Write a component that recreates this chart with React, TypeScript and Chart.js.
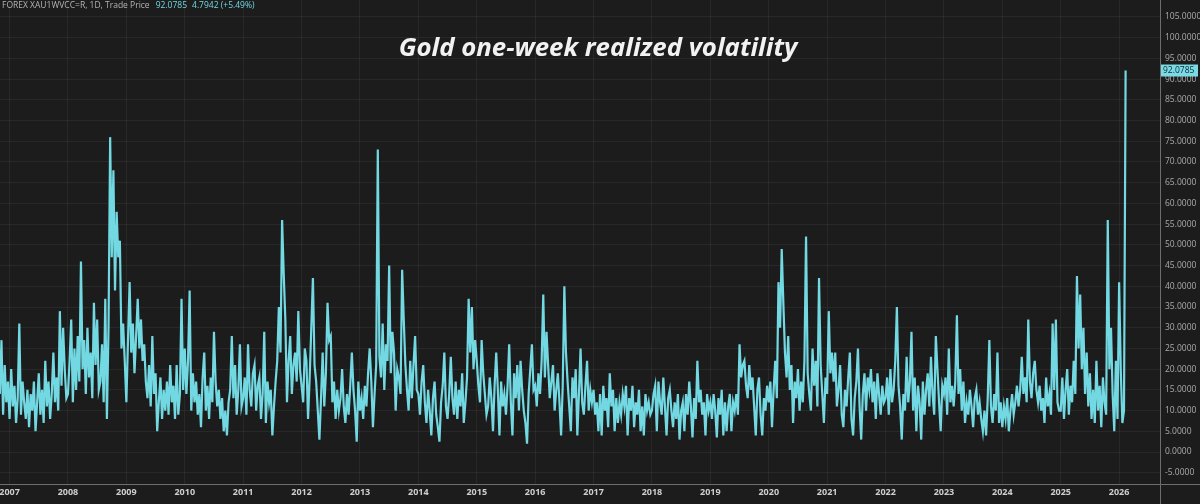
import React, { useEffect, useRef } from 'react';
import { Chart, registerables } from 'chart.js';

Chart.register(...registerables);

// ---- labels / texts ----
const headerText = 'FOREX XAU1WVCC=R, 1D, Trade Price';
const headerLast = '92.0785';
const headerChange = '4.7942 (+5.49%)';
const titleText = 'Gold one-week realized volatility';
const yearLabels = ['2007', '2008', '2009', '2010', '2011', '2012', '2013', '2014', '2015', '2016', '2017', '2018', '2019', '2020', '2021', '2022', '2023', '2024', '2025', '2026'];
const yTickValues = [-5, 0, 5, 10, 15, 20, 25, 30, 35, 40, 45, 50, 55, 60, 65, 70, 75, 80, 85, 90, 95, 100, 105];
const lastValue = 92.0785;

// ---- series values (one-week realized volatility, read per year) ----
const vol2006tail = [14, 27, 9, 21, 12, 17];
const vol2007 = [8, 20, 11, 16, 7, 13, 31, 9, 17, 12, 8, 15, 6, 14, 10, 17, 5, 12, 19, 9, 15, 7, 22, 11, 17, 8, 14, 24, 12, 18, 10, 34, 16, 30, 20, 13];
const vol2008 = [14, 22, 32, 12, 25, 15, 28, 17, 46, 20, 27, 14, 30, 18, 24, 13, 36, 21, 32, 15, 17, 26, 12, 37, 8, 30, 76, 47, 68, 39, 58, 47, 51, 25, 31, 22];
const vol2009 = [12, 27, 41, 24, 31, 19, 28, 37, 25, 32, 22, 26, 17, 13, 21, 11, 28, 14, 19, 5, 12, 18, 8, 15, 10, 17, 9, 21, 12, 16, 8, 21, 9, 14, 37, 15];
const vol2010 = [25, 14, 22, 39, 10, 19, 12, 17, 9, 14, 6, 18, 24, 10, 16, 8, 18, 12, 29, 17, 11, 15, 8, 13, 5, 10, 4, 12, 15, 28, 13, 21, 9, 15, 26, 11];
const vol2011 = [13, 18, 9, 26, 15, 11, 19, 21, 10, 16, 18, 8, 14, 29, 7, 17, 12, 15, 4, 11, 17, 22, 35, 24, 56, 43, 32, 12, 22, 28, 14, 21, 24, 17, 34, 20];
const vol2012 = [16, 12, 25, 22, 8, 18, 30, 42, 21, 17, 10, 3, 13, 24, 11, 19, 36, 27, 28, 12, 17, 8, 15, 10, 13, 20, 11, 7, 14, 9, 16, 24, 15, 10, 2.5, 17];
const vol2013 = [10, 13, 8, 16, 11, 19, 25, 17, 6, 14, 21, 73, 23, 18, 31, 15, 26, 22, 45, 19, 29, 24, 10, 20, 18, 14, 44, 32, 21, 15, 10, 22, 13, 21, 28, 15];
const vol2014 = [14, 9, 17, 21, 12, 7, 15, 10, 4, 13, 17, 9, 6, 2.5, 12, 16, 24, 11, 8, 14, 23, 13, 9, 17, 8, 15, 11, 19, 7, 12, 18, 37, 24, 35, 20, 27];
const vol2015 = [22, 16, 12, 27, 19, 14, 9, 11, 18, 13, 5, 16, 24, 15, 4, 17, 11, 14, 9, 16, 26, 12, 4, 19, 13, 21, 10, 22, 15, 10, 7, 2, 14, 20, 26, 15];
const vol2016 = [16, 11, 19, 14, 22, 38, 18, 29, 21, 13, 17, 21, 10, 15, 19, 12, 4, 16, 40, 24, 17, 11, 5, 18, 13, 20, 4, 14, 25, 12, 9, 16, 22, 10, 15, 12];
const vol2017 = [15, 9, 12, 5, 14, 4, 16, 10, 13, 6, 19, 11, 15, 5, 13, 7, 12, 9, 14, 11, 16, 4, 13, 10, 16, 6, 12, 9, 15, 5, 11, 4, 14, 10, 12, 9];
const vol2018 = [10, 14, 16, 5, 17, 12, 9, 18, 11, 4, 13, 15, 10, 6, 12, 8, 14, 3, 10, 12, 5, 14, 9, 17, 11, 3.5, 13, 8, 22, 12, 15, 9, 12, 4, 14, 10];
const vol2019 = [12, 8, 14, 10, 3.5, 13, 9, 15, 4, 12, 5, 11, 14, 5, 12, 10, 14, 9, 26, 18, 21, 22, 16, 13, 21, 15, 18, 11, 4, 15, 18, 9, 4, 13, 10, 16];
const vol2020 = [12, 17, 6, 15, 22, 13, 41, 30, 49, 36, 24, 18, 28, 15, 21, 7, 17, 13, 20, 10, 17, 12, 22, 52, 19, 14, 10, 25, 16, 22, 11, 42, 21, 14, 7, 18];
const vol2021 = [14, 34, 19, 24, 17, 24, 11, 15, 21, 9, 6, 15, 11, 18, 24, 8, 4, 13, 17, 25, 11, 3, 14, 19, 10, 18, 15, 20, 12, 17, 8, 19, 14, 9, 16, 12];
const vol2022 = [13, 18, 9, 20, 12, 15, 22, 35, 16, 11, 3, 14, 10, 23, 12, 17, 29, 10, 18, 5, 16, 12, 3, 17, 9, 15, 19, 11, 23, 14, 9, 28, 20, 12, 5, 16];
const vol2023 = [14, 18, 9, 25, 12, 16, 11, 17, 33, 14, 20, 10, 17, 7, 12, 9, 15, 11, 6, 13, 15, 9, 12, 8, 5, 10, 4, 13, 27, 11, 7, 14, 10, 24, 7, 12];
const vol2024 = [6, 11, 8, 13, 5, 10, 14, 9, 12, 16, 11, 15, 23, 14, 18, 12, 32, 17, 13, 19, 22, 15, 12, 16, 10, 13, 7, 18, 11, 14, 9, 31, 15, 32, 12, 10];
const vol2025 = [10, 18, 8, 15, 20, 9, 16, 12, 22, 14, 42.5, 25, 38, 20, 30, 14, 24, 11, 19, 8, 15, 7, 22, 10, 16, 6, 18, 12, 9, 56, 20, 30, 14, 5, 22, 8];
const vol2026head = [41, 20, 7, 10, 92.0785];

// ---- styling constants ----
const BG = '#1c1c1c';
const LINE = '#72d8e2';
const GRID = 'rgba(255,255,255,0.055)';
const AXIS_LINE = '#6e6e6e';
const STEP = 1 / 36;

function buildPoints() {
  const pts: { x: number; y: number }[] = [];
  vol2006tail.forEach((v, i) => pts.push({ x: 2007 - (vol2006tail.length - i) * STEP, y: v }));
  const years: [number, number[]][] = [
    [2007, vol2007], [2008, vol2008], [2009, vol2009], [2010, vol2010], [2011, vol2011],
    [2012, vol2012], [2013, vol2013], [2014, vol2014], [2015, vol2015], [2016, vol2016],
    [2017, vol2017], [2018, vol2018], [2019, vol2019], [2020, vol2020], [2021, vol2021],
    [2022, vol2022], [2023, vol2023], [2024, vol2024], [2025, vol2025],
  ];
  years.forEach(([yr, arr]) => arr.forEach((v, i) => pts.push({ x: yr + i / arr.length, y: v })));
  vol2026head.forEach((v, i) => pts.push({ x: 2026 + i * STEP, y: v }));
  return pts;
}

const zeroPadding = (s: any) => {
  s.paddingTop = 0;
  s.paddingBottom = 0;
  s.paddingLeft = 0;
  s.paddingRight = 0;
};

const decorPlugin = {
  id: 'decor',
  beforeDraw(chart: any) {
    const { ctx, width, height } = chart;
    ctx.save();
    ctx.fillStyle = BG;
    ctx.fillRect(0, 0, width, height);
    ctx.restore();
  },
  afterDraw(chart: any) {
    const { ctx, chartArea, width, height, scales } = chart;
    ctx.save();
    // axis cross lines
    ctx.strokeStyle = AXIS_LINE;
    ctx.lineWidth = 1;
    ctx.beginPath();
    ctx.moveTo(Math.round(chartArea.right) + 0.5, 0);
    ctx.lineTo(Math.round(chartArea.right) + 0.5, height);
    ctx.moveTo(0, Math.round(chartArea.bottom) + 0.5);
    ctx.lineTo(width, Math.round(chartArea.bottom) + 0.5);
    ctx.stroke();

    // header
    ctx.textBaseline = 'middle';
    ctx.textAlign = 'left';
    ctx.font = '8.5px "Open Sans"';
    ctx.fillStyle = '#b4b4b4';
    ctx.fillText(headerText, 2, 6);
    let hx = 2 + ctx.measureText(headerText).width + 6;
    ctx.fillStyle = LINE;
    ctx.fillText(headerLast, hx, 6);
    hx += ctx.measureText(headerLast).width + 5;
    ctx.fillText(headerChange, hx, 6);

    // title
    let fs = 22;
    ctx.font = `italic bold ${fs}px "Open Sans"`;
    const w = ctx.measureText(titleText).width;
    fs = fs * 399 / w;
    ctx.font = `italic bold ${fs}px "Open Sans"`;
    ctx.fillStyle = '#f2f2f2';
    ctx.textAlign = 'center';
    ctx.fillText(titleText, 598, 49);

    // last value tag
    const ty = scales.y.getPixelForValue(lastValue);
    ctx.fillStyle = '#7adbe6';
    ctx.fillRect(chartArea.right + 1, ty - 6, 37, 12);
    ctx.fillStyle = '#10282c';
    ctx.font = '8.5px "Open Sans"';
    ctx.textAlign = 'left';
    ctx.fillText(lastValue.toFixed(4), chartArea.right + 3, ty + 0.5);
    ctx.restore();
  },
};

export default function App() {
  const ref = useRef<HTMLCanvasElement>(null);
  useEffect(() => {
    if (!ref.current) return;
    const chart = new Chart(ref.current, {
      type: 'line',
      data: {
        datasets: [
          {
            data: buildPoints(),
            borderColor: LINE,
            borderWidth: 2.2,
            pointRadius: 0,
            tension: 0,
            fill: false,
          },
        ],
      },
      options: {
        animation: false,
        responsive: false,
        maintainAspectRatio: false,
        layout: { padding: 0 },
        plugins: { legend: { display: false }, tooltip: { enabled: false }, title: { display: false } },
        scales: {
          x: {
            type: 'linear',
            min: 2006.836,
            max: 2026.7,
            grid: { color: GRID, drawTicks: false },
            border: { display: false },
            afterBuildTicks: (s: any) => {
              s.ticks = yearLabels.map((l) => ({ value: Number(l) }));
            },
            afterFit: (s: any) => {
              s.height = 20;
              zeroPadding(s);
            },
            ticks: {
              autoSkip: false,
              maxRotation: 0,
              padding: 3,
              color: '#cfcfcf',
              font: { family: 'Open Sans', size: 9, weight: 'bold' },
              callback: (v: any) => String(v),
            },
          },
          y: {
            type: 'linear',
            position: 'right',
            min: -7.72,
            max: 109.1,
            grid: { color: GRID, drawTicks: false },
            border: { display: false },
            afterBuildTicks: (s: any) => {
              s.ticks = yTickValues.map((v) => ({ value: v }));
            },
            afterFit: (s: any) => {
              s.width = 40;
              zeroPadding(s);
            },
            ticks: {
              autoSkip: false,
              padding: 5,
              color: '#ababab',
              font: { family: 'Open Sans', size: 8.5 },
              callback: (v: any) => Number(v).toFixed(4),
            },
          },
        },
      },
      plugins: [decorPlugin],
    });
    return () => chart.destroy();
  }, []);
  return (
    <div style={{ position: 'fixed', left: 0, top: 0, width: 1200, height: 504, background: BG }}>
      <canvas ref={ref} width={1200} height={504} style={{ display: 'block', width: 1200, height: 504 }} />
    </div>
  );
}
